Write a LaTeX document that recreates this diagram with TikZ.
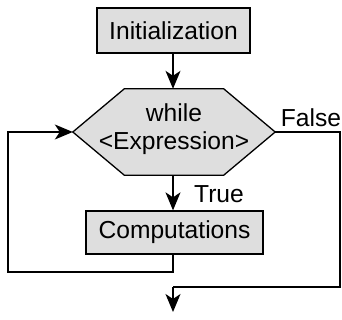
\documentclass[tikz,border=0pt]{standalone}
\usepackage{fontspec}
\setmainfont{Liberation Sans}
\usetikzlibrary{arrows.meta,backgrounds}
\definecolor{boxfill}{HTML}{DEDEDE}
\tikzset{
  flow/.style={line width=1.3pt, draw=black},
  arr/.style={flow, -{Stealth[length=18pt,width=15pt,inset=5pt]}},
  procbox/.style={draw=black, line width=1.3pt, fill=boxfill, inner sep=0pt, font=\fontsize{24.6}{28}\selectfont},
  lbl/.style={font=\fontsize{24.6}{28}\selectfont, inner sep=0pt},
}
\begin{document}
\begin{tikzpicture}[x=1pt,y=-1pt]
\useasboundingbox (0,0) rectangle (342,320);
% nodes
\node[procbox, minimum width=153pt, minimum height=45pt] (init) at (173.5,30.5) {Initialization};
\node[inner sep=0pt, minimum width=202pt, minimum height=86pt] (hex) at (174,132) {};
\node[lbl, align=center] (hextext) at (174,129) {while\\\textless Expression\textgreater};
\begin{pgfonlayer}{background}
\draw[flow, fill=boxfill] (hex.west) -- ([xshift=51.5pt]hex.north west) -- ([xshift=-51.5pt]hex.north east) -- (hex.east) -- ([xshift=-51.5pt]hex.south east) -- ([xshift=51.5pt]hex.south west) -- cycle;
\end{pgfonlayer}
\node[procbox, minimum width=177pt, minimum height=43pt] (comp) at (174.5,232.5) {Computations};
\node[lbl] (false) at (311,118) {False};
\node[lbl] (true) at (219,194) {True};
\coordinate (loopL) at (8,272);
\coordinate (falseR) at (340,287);
\coordinate (exitend) at (173,312);
% connectors
\draw[arr] (init.south -| exitend) -- (hex.north -| exitend);
\draw[arr] (hex.south -| exitend) -- (comp.north -| exitend);
\draw[arr] (comp.south -| exitend) -- (exitend |- loopL) -- (loopL) -- (loopL |- hex.west) -- (hex.west);
\draw[flow] (hex.east) -- (hex.east -| falseR) -- (falseR) -- (falseR -| exitend) -- (exitend |- falseR);
\draw[arr] (exitend |- falseR) -- (exitend);
\end{tikzpicture}
\end{document}
